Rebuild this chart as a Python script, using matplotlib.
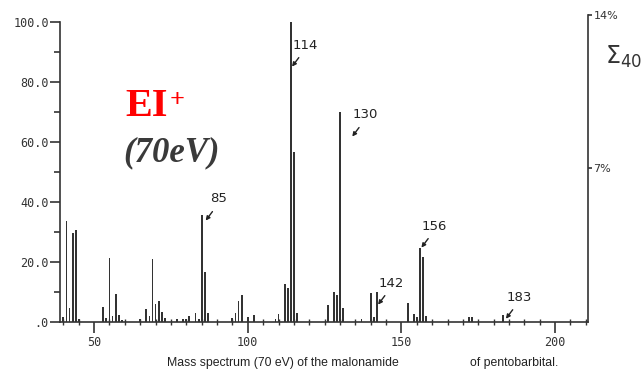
import numpy as np
from matplotlib import pyplot as plt
from matplotlib.ticker import MultipleLocator, FixedLocator

# m/z and relative intensity
mz = [40, 41, 42, 43, 44, 45,
      53, 54, 55, 56, 57, 58, 59, 65,
      67, 68, 69, 70, 71, 72, 73,
      77, 79, 80, 81, 83, 84, 85, 86, 87,
      95, 96, 97, 98, 100, 102,
      109, 110, 112, 113, 114, 115, 116,
      126, 128, 129, 130, 131,
      137, 140, 141, 142,
      152, 154, 155, 156, 157, 158,
      172, 173, 183]
intensity = [1.5, 33.5, 4.5, 29.5, 30.5, 1.0,
             5.0, 1.3, 21.2, 2.0, 9.4, 2.3, 0.6, 1.0,
             4.2, 2.0, 21.0, 5.8, 7.0, 3.4, 1.3,
             0.8, 1.0, 0.8, 2.0, 3.0, 1.0, 35.6, 16.6, 2.8,
             1.3, 2.8, 7.0, 9.0, 1.7, 2.3,
             1.0, 2.5, 12.7, 11.3, 100.0, 56.5, 2.8,
             5.7, 10.0, 9.0, 70.0, 4.7,
             1.0, 9.6, 1.5, 10.0,
             6.3, 2.6, 1.7, 24.5, 21.5, 2.0,
             1.5, 1.5, 2.2]

labelled = [85, 114, 130, 142, 156, 183]
# label offsets (dm, dI) from the peak top
label_off = {85: (5.5, 5.3), 114: (4.6, -7.8), 130: (8.2, -1.1),
             142: (4.6, 2.9), 156: (4.7, 7.4), 183: (5.2, 6.0)}

y_ticks = [0, 20, 40, 60, 80, 100]
y_ticklabels = ['.0', '20.0', '40.0', '60.0', '80.0', '100.0']
x_ticks = [50, 100, 150, 200]
pct_ticks = [7, 14]
pct_labels = ['7%', '14%']

INK = '#333333'
MONO = 'DejaVu Sans Mono'

fig = plt.figure(figsize=(6.41, 3.75), dpi=100)
ax = fig.add_axes([0.0936, 0.142, 0.8237, 0.818])

ax.bar(mz, intensity, width=0.6, color=INK, linewidth=0)
ax.set_xlim(38.9, 210.7)
ax.set_ylim(0, 102.2)

for s in ['top', 'right']:
    ax.spines[s].set_visible(False)
ax.spines['left'].set_bounds(0, 100)
for s in ['left', 'bottom']:
    ax.spines[s].set_color(INK)
    ax.spines[s].set_linewidth(1.2)

ax.yaxis.set_major_locator(FixedLocator(y_ticks))
ax.set_yticklabels(y_ticklabels, fontsize=8.5, color=INK, family=MONO)
ax.yaxis.set_minor_locator(MultipleLocator(10))
ax.tick_params(axis='y', which='major', length=7, width=1.2, color=INK, pad=1)
ax.tick_params(axis='y', which='minor', length=4, width=1.2, color=INK)

ax.xaxis.set_major_locator(FixedLocator(x_ticks))
ax.set_xticklabels([str(t) for t in x_ticks], fontsize=8.5, color=INK, family=MONO)
ax.xaxis.set_minor_locator(MultipleLocator(5))
ax.tick_params(axis='x', which='major', length=8, width=1.2, color=INK, pad=2)
ax.tick_params(axis='x', which='minor', direction='inout', length=5, width=1.0,
               color=INK)

# right-hand percentage scale
ax2 = ax.twinx()
ax2.set_ylim(0, 14)
for s in ['top', 'left', 'bottom']:
    ax2.spines[s].set_visible(False)
ax2.spines['right'].set_color(INK)
ax2.spines['right'].set_linewidth(1.2)
ax2.yaxis.set_major_locator(FixedLocator(pct_ticks))
ax2.set_yticklabels(pct_labels, fontsize=8, color=INK)
ax2.tick_params(axis='y', length=3, width=1.2, color=INK, pad=1)

# peak labels with small arrows
for m in labelled:
    h = intensity[mz.index(m)]
    dx, dy = label_off[m]
    tx, ty = m + dx, h + dy
    ax.text(tx, ty, str(m), fontsize=9.5, color='#222222', ha='center', va='center')
    sx, sy = tx - 2.0, ty - 4.2
    ax.annotate('', xy=(sx - 2.2, sy - 3.0), xytext=(sx, sy),
                arrowprops=dict(arrowstyle='-|>', color='#222222', lw=1.0,
                                mutation_scale=6, shrinkA=0, shrinkB=0))

fig.text(0.944, 0.848, r'$\Sigma_{40}$', fontsize=17, color=INK, va='center')

fig.text(0.195, 0.715, 'EI', fontsize=29, color='#ff0000', fontweight='bold',
         family='Liberation Serif', va='center')
fig.text(0.264, 0.733, '+', fontsize=19, color='#ff0000', fontweight='bold',
         family='Liberation Serif', va='center')
fig.text(0.192, 0.592, '(70eV)', fontsize=25, color='#3a3a3a', fontweight='bold',
         style='italic', family='Liberation Serif', va='center')

fig.text(0.26, 0.032, 'Mass spectrum (70 eV) of the malonamide', fontsize=8.8,
         color='#222222', family='Liberation Sans', va='center')
fig.text(0.733, 0.032, 'of pentobarbital.', fontsize=8.8,
         color='#222222', family='Liberation Sans', va='center')

fig.savefig('out.png', dpi=100)
